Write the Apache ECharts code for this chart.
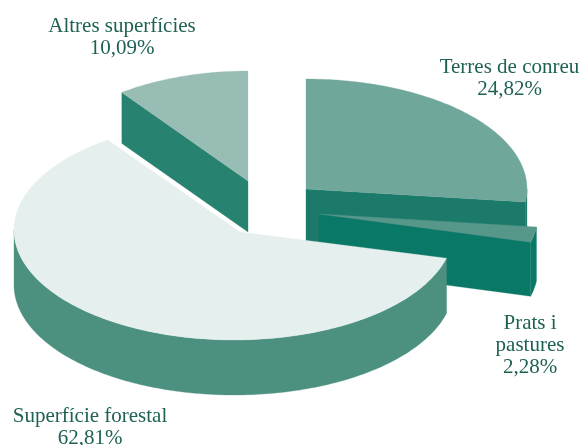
<!DOCTYPE html>
<html><head><meta charset="utf-8">
<style>html,body{margin:0;padding:0;background:#fff}#c{width:581px;height:445px}</style>
<script src="https://cdn.jsdelivr.net/npm/echarts@6/dist/echarts.min.js"></script>
</head><body><div id="c"></div>
<script>
const categories = ['Terres de conreu', 'Prats i\npastures', 'Superfície forestal', 'Altres superfícies'];
const values = [24.82, 2.28, 62.81, 10.09];
const topColors = ['#70a79b', '#57978a', '#e5efed', '#98bdb4'];
const sideColors = ['#1c7a6a', '#0a7866', '#4c9080', '#27826f'];
const drawOrder = [1, 2, 3, 4];            // painter's z for each slice
const ellipses = [                          // cx, cy, rx, ry, depth, apexX, apexY
  [306, 189, 221, 110, 54, 306, 189],
  [319, 214, 219, 110, 54, 319, 214],
  [234, 230, 220, 110, 55, 240, 232],
  [248, 181, 213, 110, 51, 248, 181]
];
const endTrim = [0, 0, 1.3, 0];             // degrees the rim stops short of the next slice
const flatFace = ['end', 'end', null, 'start'];  // which cut edge shows a side face
const labelPos = [[509.5, 78], [530, 345], [90, 427], [122, 37]];
const textColor = '#1f6155';
const tilt = 7.4;

const total = values.reduce((a, b) => a + b, 0);
const warp = d => d + tilt * Math.max(0, Math.sin(d * Math.PI / 180));
function pt(e, deg, dy) {
  const r = deg * Math.PI / 180;
  return [e[0] + e[2] * Math.sin(r), e[1] - e[3] * Math.cos(r) + (dy || 0)];
}
function arc(e, a, b, dy) {
  const n = Math.max(2, Math.ceil(Math.abs(b - a)));
  const out = [];
  for (let i = 0; i <= n; i++) out.push(pt(e, a + (b - a) * i / n, dy));
  return out;
}
let cum = 0;
const spans = values.map((v, i) => {
  const s = cum; cum += v / total * 360;
  return [warp(s), warp(cum) + endTrim[i]];
});

function renderItem(params, api) {
  const i = params.dataIndex, e = ellipses[i], [a, b] = spans[i], z = drawOrder[i] * 10, d = e[4];
  const apex = [e[5], e[6]];
  const kids = [];
  const poly = (points, fill, zz) => kids.push({
    type: 'polygon', z2: zz, shape: { points },
    style: { fill, stroke: fill, lineWidth: 0.3 }
  });
  // flat cut face seen from above
  if (flatFace[i]) {
    const q = pt(e, flatFace[i] === 'end' ? b : a);
    poly([apex, q, [q[0], q[1] + d], [apex[0], apex[1] + d]], sideColors[i], z);
  }
  // outer wall: the part of the rim in the lower half of the ellipse
  const w0 = Math.max(a, 90), w1 = Math.min(b, 270);
  if (w1 > w0) poly(arc(e, w0, w1).concat(arc(e, w1, w0, d)), sideColors[i], z + 1);
  // top surface
  poly([apex].concat(arc(e, a, b)), topColors[i], z + 2);
  // label
  const p = labelPos[i];
  const pct = values[i].toFixed(2).replace('.', ',') + '%';
  kids.push({
    type: 'text', z2: 100, x: p[0], y: p[1],
    style: {
      text: categories[i] + '\n' + pct, x: 0, y: 0, fill: textColor,
      font: '21px "Liberation Serif"', lineHeight: 22, align: 'center', verticalAlign: 'middle'
    }
  });
  return { type: 'group', children: kids };
}

const chart = echarts.init(document.getElementById('c'), null, { renderer: 'canvas' });
chart.setOption({
  animation: false,
  backgroundColor: '#ffffff',
  series: [{
    type: 'custom', coordinateSystem: 'none', renderItem, silent: true,
    data: values
  }]
});
</script></body></html>
